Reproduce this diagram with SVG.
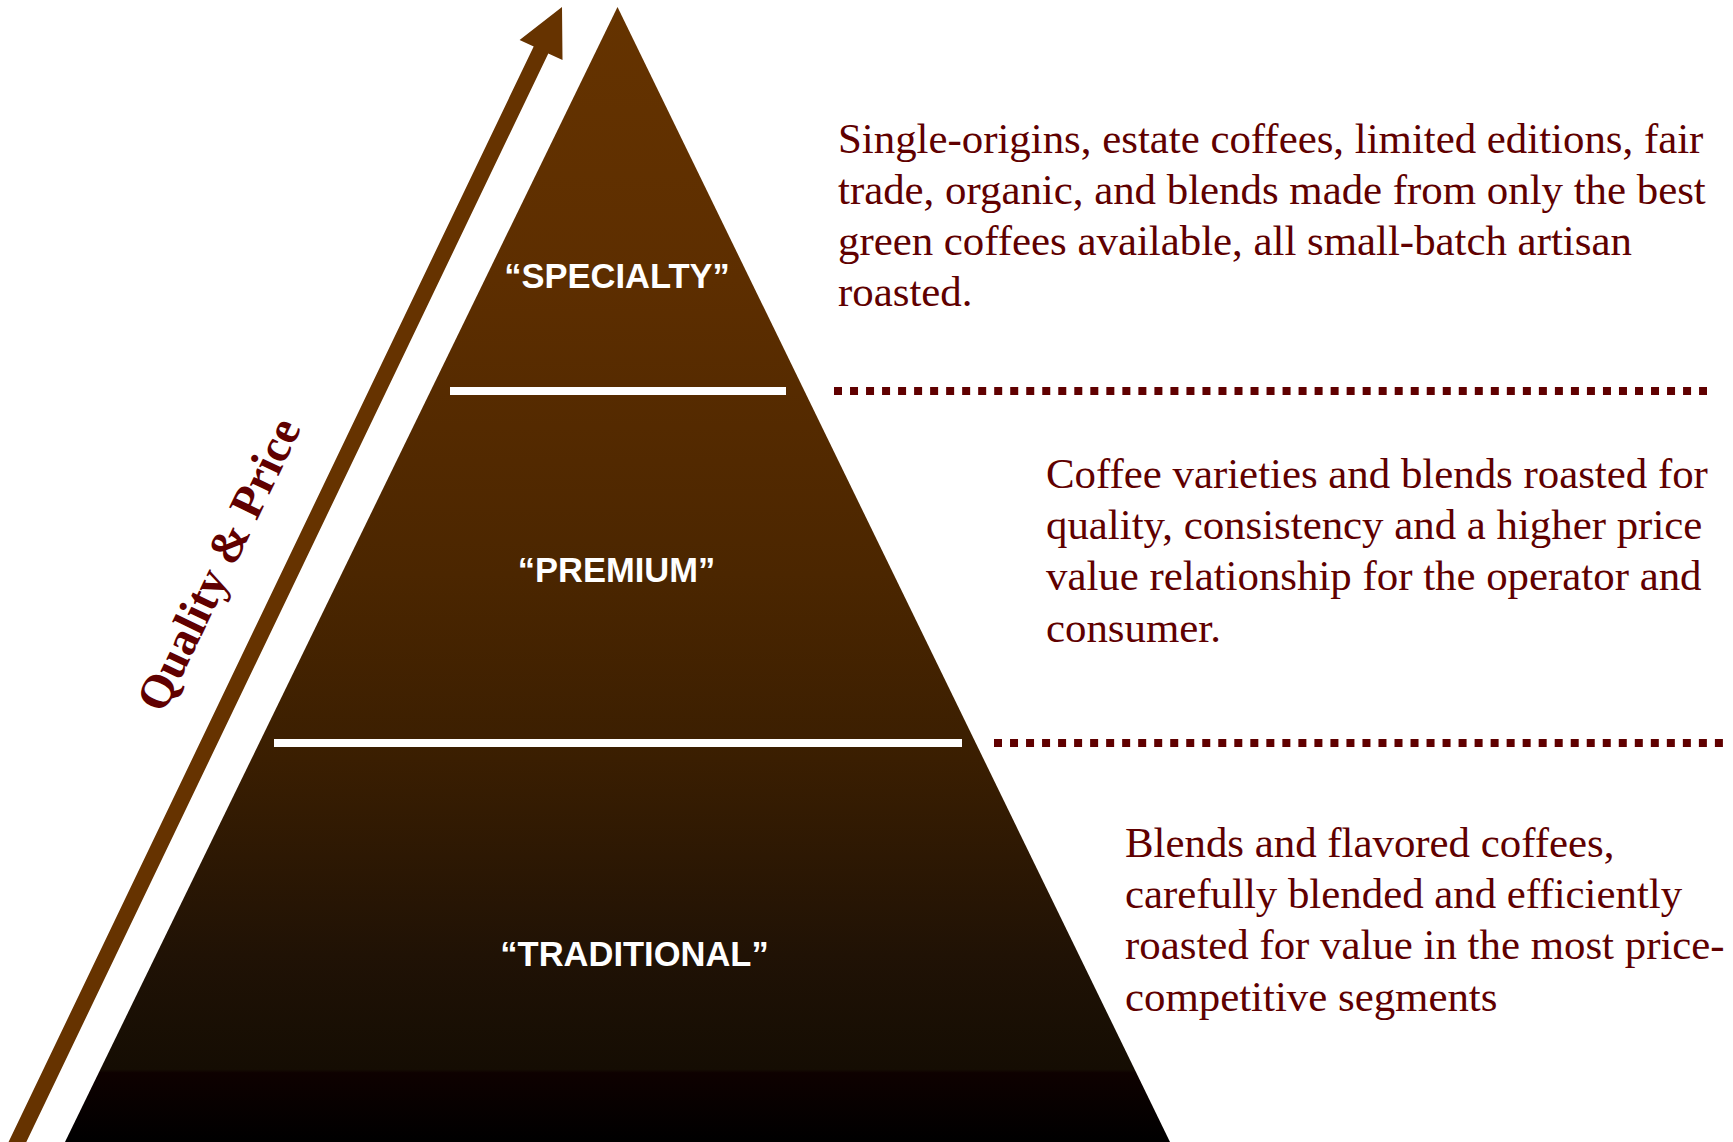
<svg xmlns="http://www.w3.org/2000/svg" width="1733" height="1142" viewBox="0 0 1733 1142">
  <defs>
    <linearGradient id="roast" gradientUnits="userSpaceOnUse" x1="0" y1="7" x2="0" y2="1142">
      <stop offset="0" stop-color="#653300"/>
      <stop offset="0.24" stop-color="#5d2e00"/>
      <stop offset="0.50" stop-color="#4b2600"/>
      <stop offset="0.663" stop-color="#3a1e01"/>
      <stop offset="0.835" stop-color="#201205"/>
      <stop offset="0.936" stop-color="#150d03"/>
      <stop offset="0.939" stop-color="#0e0100"/>
      <stop offset="1" stop-color="#000000"/>
    </linearGradient>
    <style>
      .tier-label { font-family: "Liberation Sans", Arial, sans-serif; font-weight: bold; font-size: 34.5px; fill: #ffffff; text-anchor: middle; }
      .desc { font-family: "Liberation Serif", "Times New Roman", serif; font-size: 42.85px; fill: #600000; }
      .axis-label { font-family: "Liberation Serif", "Times New Roman", serif; font-weight: bold; font-size: 47px; fill: #600000; text-anchor: middle; }
      .separator { fill: #ffffff; }
      .leader { stroke: #600000; stroke-width: 8; stroke-dasharray: 8 8.02; fill: none; }
    </style>
  </defs>

  <rect width="1733" height="1142" fill="#ffffff"/>

  <!-- Rising quality/price axis -->
  <g id="axis-arrow">
    <polygon fill="#663300" points="6.4,1146.5 533.7,46.5 519.6,40 562,7 562.5,60 548.3,53.5 20.8,1153.5"/>
    <text class="axis-label" transform="translate(220,565) rotate(-64.3)" x="0" y="14">Quality &amp; Price</text>
  </g>

  <!-- Pyramid body with tier separators -->
  <g id="pyramid">
    <polygon fill="url(#roast)" points="617.5,7 1170,1142 65,1142"/>
    <rect class="separator" x="450" y="387" width="336" height="8"/>
    <rect class="separator" x="274" y="739" width="688" height="8"/>
  </g>

  <!-- Dotted leaders between tiers and descriptions -->
  <g id="connectors">
    <line class="leader" x1="834" y1="391" x2="1707" y2="391"/>
    <line class="leader" x1="994" y1="743" x2="1723" y2="743"/>
  </g>

  <g id="tier-specialty">
    <text class="tier-label" x="617" y="287.7">“SPECIALTY”</text>
    <text class="desc">
      <tspan x="838" y="153.3">Single-origins, estate coffees, limited editions, fair</tspan>
      <tspan x="838" y="204.3">trade, organic, and blends made from only the best</tspan>
      <tspan x="838" y="255.3">green coffees available, all small-batch artisan</tspan>
      <tspan x="838" y="306.3">roasted.</tspan>
    </text>
  </g>

  <g id="tier-premium">
    <text class="tier-label" x="616.5" y="582.3">“PREMIUM”</text>
    <text class="desc">
      <tspan x="1046" y="487.7">Coffee varieties and blends roasted for</tspan>
      <tspan x="1046" y="539">quality, consistency and a higher price</tspan>
      <tspan x="1046" y="590.3">value relationship for the operator and</tspan>
      <tspan x="1046" y="641.6">consumer.</tspan>
    </text>
  </g>

  <g id="tier-traditional">
    <text class="tier-label" x="634.5" y="965.7">“TRADITIONAL”</text>
    <text class="desc">
      <tspan x="1125" y="856.7">Blends and flavored coffees,</tspan>
      <tspan x="1125" y="908">carefully blended and efficiently</tspan>
      <tspan x="1125" y="959.3">roasted for value in the most price-</tspan>
      <tspan x="1125" y="1010.6">competitive segments</tspan>
    </text>
  </g>
</svg>
